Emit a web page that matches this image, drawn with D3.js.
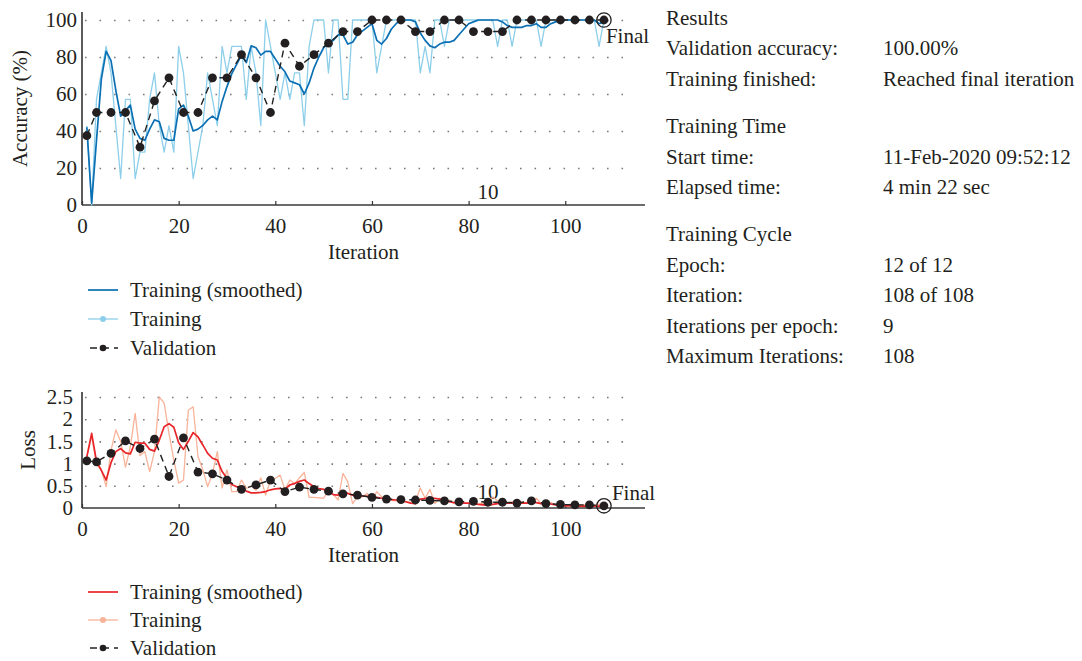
<!DOCTYPE html>
<html>
<head>
<meta charset="utf-8">
<script src="https://cdn.jsdelivr.net/npm/d3@7"></script>
<style>
  body { margin: 0; background: #fff; }
  text { font-family: "Liberation Serif", "Times New Roman", serif; fill: #231f20; }
</style>
</head>
<body>
<svg id="chart" width="1082" height="661"></svg>
<script>
// ---- data: training progress, 108 iterations (12 epochs x 9) ----
const iterations = d3.range(1, 109);

const accTrain = [
  42.86, 0, 57.14, 71.43, 85.71, 71.43, 42.86, 14.29, 57.14, 57.14,
  14.29, 28.57, 28.57, 57.14, 71.43, 42.86, 28.57, 42.86, 28.57, 85.71,
  71.43, 42.86, 14.29, 28.57, 42.86, 71.43, 57.14, 42.86, 85.71, 71.43,
  85.71, 85.71, 85.71, 57.14, 85.71, 71.43, 42.86, 100, 85.71, 71.43,
  57.14, 71.43, 57.14, 71.43, 71.43, 42.86, 85.71, 100, 100, 100,
  71.43, 100, 100, 57.14, 57.14, 100, 100, 100, 100, 100,
  71.43, 85.71, 100, 100, 100, 100, 100, 100, 100, 71.43,
  85.71, 71.43, 100, 100, 85.71, 100, 100, 100, 100, 100,
  100, 100, 100, 100, 100, 85.71, 100, 100, 85.71, 100,
  100, 100, 100, 100, 85.71, 100, 100, 100, 100, 100,
  100, 100, 100, 100, 100, 100, 85.71, 100
];

const accSmooth = [
  42, 1, 35, 68, 83, 78, 62, 48, 51, 54,
  41, 36, 35, 41, 46, 45, 36, 35, 35, 52,
  54, 48, 40, 41, 43, 46, 48, 46, 56, 64,
  71, 76, 81, 77, 86, 85, 81, 83, 83, 79,
  75, 72, 67, 66, 65, 60, 66, 74, 80, 85,
  88, 89, 92, 92, 87, 88, 92, 94, 96, 98,
  89, 87, 90, 95, 98, 100, 100, 100, 99, 93,
  89, 86, 85, 87, 88, 88, 89, 92, 95, 98,
  99, 100, 100, 100, 100, 100, 99, 97, 96, 96,
  96, 97, 97, 98, 96, 96, 98, 99, 100, 100,
  100, 100, 100, 100, 100, 100, 98, 99
];

const valIter = [1, 3, 6, 9, 12, 15, 18, 21, 24, 27, 30, 33, 36, 39, 42, 45, 48, 51, 54,
  57, 60, 63, 66, 69, 72, 75, 78, 81, 84, 87, 90, 93, 96, 99, 102, 105, 108];

const accVal = [37.5, 50, 50, 50, 31.25, 56.25, 68.75, 50, 50, 68.75, 68.75, 81.25, 68.75,
  50, 87.5, 75, 81.25, 87.5, 93.75, 93.75, 100, 100, 100, 93.75, 93.75, 100, 100,
  93.75, 93.75, 93.75, 100, 100, 100, 100, 100, 100, 100];

const lossTrain = [
  1.15, 1.62, 0.98, 0.85, 0.48, 1.30, 1.76, 1.50, 0.92, 1.38,
  2.13, 1.18, 1.27, 0.82, 1.27, 2.50, 2.36, 1.68, 1.08, 0.56,
  0.63, 2.20, 2.28, 1.16, 0.86, 0.48, 0.78, 1.27, 0.45, 0.86,
  0.37, 0.37, 0.63, 0.44, 0.50, 0.40, 0.68, 0.29, 0.62, 0.67,
  0.74, 0.41, 0.63, 0.55, 0.68, 0.80, 0.24, 0.24, 0.23, 0.22,
  0.40, 0.31, 0.18, 0.78, 0.59, 0.10, 0.25, 0.25, 0.33, 0.18,
  0.37, 0.25, 0.20, 0.17, 0.16, 0.18, 0.14, 0.13, 0.15, 0.45,
  0.22, 0.42, 0.10, 0.22, 0.12, 0.18, 0.10, 0.15, 0.12, 0.10,
  0.14, 0.09, 0.11, 0.08, 0.25, 0.16, 0.22, 0.12, 0.14, 0.10,
  0.13, 0.12, 0.16, 0.22, 0.10, 0.08, 0.12, 0.07, 0.09, 0.06,
  0.08, 0.05, 0.06, 0.07, 0.04, 0.06, 0.09, 0.04
];

const lossSmooth = [
  1.15, 1.68, 1.05, 0.85, 0.63, 1.02, 1.27, 1.34, 1.24, 1.22,
  1.48, 1.46, 1.46, 1.32, 1.28, 1.53, 1.83, 1.90, 1.82, 1.47,
  1.32, 1.50, 1.70, 1.60, 1.42, 1.23, 1.12, 1.08, 0.82, 0.67,
  0.53, 0.48, 0.45, 0.38, 0.34, 0.34, 0.35, 0.37, 0.41, 0.43,
  0.44, 0.42, 0.52, 0.55, 0.60, 0.63, 0.55, 0.48, 0.44, 0.42,
  0.38, 0.30, 0.29, 0.36, 0.33, 0.29, 0.27, 0.27, 0.26, 0.24,
  0.24, 0.22, 0.21, 0.19, 0.18, 0.16, 0.14, 0.11, 0.10, 0.20,
  0.21, 0.22, 0.22, 0.20, 0.18, 0.14, 0.12, 0.12, 0.11, 0.11,
  0.10, 0.08, 0.07, 0.06, 0.08, 0.10, 0.11, 0.11, 0.11, 0.11,
  0.11, 0.11, 0.12, 0.12, 0.10, 0.09, 0.09, 0.07, 0.06, 0.05,
  0.05, 0.05, 0.04, 0.04, 0.04, 0.04, 0.04, 0.04
];

const lossVal = [1.06, 1.04, 1.23, 1.51, 1.34, 1.55, 0.71, 1.58, 0.81, 0.77, 0.63, 0.42, 0.52,
  0.63, 0.37, 0.47, 0.42, 0.38, 0.32, 0.29, 0.24, 0.20, 0.19, 0.18, 0.17, 0.16, 0.14,
  0.15, 0.13, 0.13, 0.11, 0.16, 0.10, 0.08, 0.07, 0.07, 0.05];

const xTicks = [0, 20, 40, 60, 80, 100];
const accTicks = [0, 20, 40, 60, 80, 100];
const lossTicks = [0, 0.5, 1, 1.5, 2, 2.5];
const legendLabels = ["Training (smoothed)", "Training", "Validation"];

const infoRows = [
  { label: "Results", value: "" },
  { label: "Validation accuracy:", value: "100.00%" },
  { label: "Training finished:", value: "Reached final iteration" },
  { gap: true },
  { label: "Training Time", value: "" },
  { label: "Start time:", value: "11-Feb-2020 09:52:12" },
  { label: "Elapsed time:", value: "4 min 22 sec" },
  { gap: true },
  { label: "Training Cycle", value: "" },
  { label: "Epoch:", value: "12 of 12" },
  { label: "Iteration:", value: "108 of 108" },
  { label: "Iterations per epoch:", value: "9" },
  { label: "Maximum Iterations:", value: "108" }
];

// ---- drawing ----
const svg = d3.select("#chart");
const FS = 21;
const gridColor = "#7a7a7a";

function drawPanel(o) {
  const g = svg.append("g");
  const x = d3.scaleLinear().domain([0, 116.5]).range([82, 645]);
  const y = d3.scaleLinear().domain(o.domain).range(o.range);

  // dotted horizontal grid
  g.append("g")
    .attr("transform", `translate(${x(0)},0)`)
    .call(d3.axisLeft(y).tickValues(o.ticks.filter(t => t !== 0)).tickSize(-(636 - 82)).tickFormat(""))
    .call(a => a.select(".domain").remove())
    .call(a => a.selectAll("line")
      .attr("stroke", gridColor).attr("stroke-width", 1.6)
      .attr("stroke-dasharray", "1.6 12.9").attr("stroke-dashoffset", 11.5));

  // x axis
  const xa = g.append("g").attr("transform", `translate(0,${y(0)})`)
    .call(d3.axisBottom(x).tickValues(xTicks).tickSize(-4).tickPadding(13).tickFormat(d3.format("d")));
  xa.select(".domain").attr("stroke", "#6b6b6b").attr("stroke-width", 2.2).attr("d", `M${x(0)},0H645`);
  xa.selectAll(".tick line").attr("stroke", "#333").attr("stroke-width", 1.2);
  xa.selectAll("text").attr("font-size", FS).attr("font-family", '"Liberation Serif", serif').attr("fill", "#231f20");

  // y axis
  const ya = g.append("g").attr("transform", `translate(${x(0)},0)`)
    .call(d3.axisLeft(y).tickValues(o.ticks).tickSize(0).tickPadding(o.tickPad).tickFormat(o.fmt));
  ya.select(".domain").attr("stroke", "#333").attr("stroke-width", 1.6).attr("d", `M0,${y(0)}V${o.axisTop}`);
  ya.selectAll("text").attr("font-size", FS).attr("font-family", '"Liberation Serif", serif').attr("fill", "#231f20");

  // axis titles
  g.append("text").attr("transform", `translate(${o.yLabelX},${(y(0) + o.axisTop) / 2}) rotate(-90)`)
    .attr("text-anchor", "middle").attr("dominant-baseline", "central").attr("font-size", FS).text(o.yLabel);
  g.append("text").attr("x", (x(0) + 645) / 2).attr("y", y(0) + 54)
    .attr("text-anchor", "middle").attr("font-size", FS).text("Iteration");

  // epoch label
  g.append("text").attr("x", x(84)).attr("y", y(o.epochY))
    .attr("text-anchor", "middle").attr("font-size", FS).text("10");

  const line = d3.line().x(d => x(d[0])).y(d => y(d[1]));

  // raw training
  g.append("path").datum(iterations.map((it, i) => [it, o.train[i]]))
    .attr("fill", "none").attr("stroke", o.trainColor).attr("stroke-width", 1.3)
    .attr("stroke-linejoin", "round").attr("d", line);
  // smoothed training
  g.append("path").datum(iterations.map((it, i) => [it, o.smooth[i]]))
    .attr("fill", "none").attr("stroke", o.smoothColor).attr("stroke-width", 1.7)
    .attr("stroke-linejoin", "round").attr("d", line);
  // validation
  const vData = valIter.map((it, i) => [it, o.val[i]]);
  g.append("path").datum(vData)
    .attr("fill", "none").attr("stroke", "#222").attr("stroke-width", 1.4)
    .attr("stroke-dasharray", "7 5").attr("d", line);
  g.selectAll(".vdot").data(vData).join("circle").attr("class", "vdot")
    .attr("cx", d => x(d[0])).attr("cy", d => y(d[1])).attr("r", 4.4).attr("fill", "#231f20");

  // final marker
  const last = vData[vData.length - 1];
  g.append("circle").attr("cx", x(last[0])).attr("cy", y(last[1])).attr("r", 7.2)
    .attr("fill", "none").attr("stroke", "#231f20").attr("stroke-width", 1.3);
  g.append("text").attr("x", x(last[0]) + o.finalDx).attr("y", y(last[1]) + o.finalDy)
    .attr("font-size", FS).text("Final");

  // legend
  const lg = g.append("g").attr("transform", `translate(88,${o.legendY})`);
  legendLabels.forEach((lab, i) => {
    const row = lg.append("g").attr("transform", `translate(0,${i * o.legendStep})`);
    if (i === 0) {
      row.append("line").attr("x1", 0).attr("x2", 30).attr("stroke", o.smoothColor).attr("stroke-width", 1.7);
    } else if (i === 1) {
      row.append("line").attr("x1", 0).attr("x2", 30).attr("stroke", o.trainColor).attr("stroke-width", 1.3);
      row.append("circle").attr("cx", 15).attr("r", 3).attr("fill", o.trainColor);
    } else {
      row.append("line").attr("x1", 0).attr("x2", 30).attr("stroke", "#222").attr("stroke-width", 1.4)
        .attr("stroke-dasharray", "7 5").attr("stroke-dashoffset", -2);
      row.append("circle").attr("cx", 15).attr("r", 3.3).attr("fill", "#231f20");
    }
    row.append("text").attr("x", 42).attr("y", 0).attr("dominant-baseline", "central")
      .attr("font-size", FS).text(lab);
  });
}

drawPanel({
  domain: [0, 100], range: [205, 20], axisTop: 12, ticks: accTicks, fmt: d3.format("d"),
  tickPad: 5, yLabelX: 20, yLabel: "Accuracy (%)", epochY: 3.2,
  train: accTrain, smooth: accSmooth, val: accVal,
  trainColor: "#8dcfea", smoothColor: "#0a6fb3",
  finalDx: 2, finalDy: 23, legendY: 290, legendStep: 29
});

drawPanel({
  domain: [0, 2.5], range: [508, 397], axisTop: 392, ticks: lossTicks, fmt: d => String(d),
  tickPad: 9, yLabelX: 28, yLabel: "Loss", epochY: 0.2,
  train: lossTrain, smooth: lossSmooth, val: lossVal,
  trainColor: "#f8b399", smoothColor: "#e8262a",
  finalDx: 8, finalDy: -6, legendY: 592, legendStep: 28
});

// ---- info panel ----
const info = svg.append("g").attr("transform", "translate(666,0)");
let yPos = 25;
infoRows.forEach(r => {
  if (r.gap) { yPos += 17; return; }
  info.append("text").attr("x", 0).attr("y", yPos).attr("font-size", FS).text(r.label);
  if (r.value) info.append("text").attr("x", 217).attr("y", yPos).attr("font-size", FS).text(r.value);
  yPos += 30.4;
});
</script>
</body>
</html>
